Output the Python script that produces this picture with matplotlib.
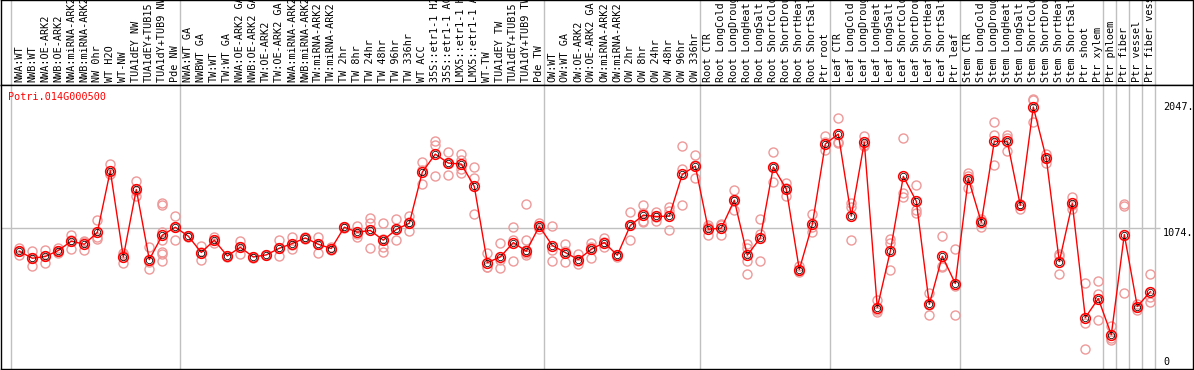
# expression profile chart for Potri.014G000500
# top strip = sample names (rotated), bottom = the values
# pink circles are the single replicates, red/black circles the means

import matplotlib
matplotlib.use("Agg")
import matplotlib.pyplot as plt

gene_name = "Potri.014G000500"

sample_labels = [
    "NWA:WT", "NWB:WT", "NWA:OE-ARK2", "NWB:OE-ARK2", "NWA:miRNA-ARK2", "NWB:miRNA-ARK2",
    "NW 0hr", "WT H2O", "WT-NW", "TUA1dEY NW", "TUA1dEY+TUB15", "TUA1dY+TUB9 NW", "Pde NW",
    "NWA:WT GA", "NWBWT GA", "TW:WT", "TW:WT GA", "NWA:OE-ARK2 GA", "NWB:OE-ARK2 GA",
    "TW:OE-ARK2", "TW:OE-ARK2 GA", "NWA:miRNA-ARK2", "NWB:miRNA-ARK2", "TW:miRNA-ARK2",
    "TW:miRNA-ARK2", "TW 2hr", "TW 8hr", "TW 24hr", "TW 48hr", "TW 96hr", "TW 336hr",
    "WT ACC", "35S::etr1-1 H2O", "35S::etr1-1 ACC", "LMX5::etr1-1 H2O", "LMX5::etr1-1 ACC",
    "WT-TW", "TUA1dEY TW", "TUA1dEY+TUB15", "TUA1dY+TUB9 TW", "Pde TW",
    "OW:WT", "OW:WT GA", "OW:OE-ARK2", "OW:OE-ARK2 GA", "OW:miRNA-ARK2", "OW:miRNA-ARK2",
    "OW 2hr", "OW 8hr", "OW 24hr", "OW 48hr", "OW 96hr", "OW 336hr",
    "Root CTR", "Root LongCold", "Root LongDrought", "Root LongHeat", "Root LongSalt",
    "Root ShortCold", "Root ShortDrought", "Root ShortHeat", "Root ShortSalt", "Ptr root",
    "Leaf CTR", "Leaf LongCold", "Leaf LongDrought", "Leaf LongHeat", "Leaf LongSalt",
    "Leaf ShortCold", "Leaf ShortDrought", "Leaf ShortHeat", "Leaf ShortSalt", "Ptr leaf",
    "Stem CTR", "Stem LongCold", "Stem LongDrought", "Stem LongHeat", "Stem LongSalt",
    "Stem ShortCold", "Stem ShortDrought", "Stem ShortHeat", "Stem ShortSalt", "Ptr shoot",
    "Ptr xylem", "Ptr phloem", "Ptr fiber", "Ptr vessel", "Ptr fiber vessel",
]

# index of the first sample of every block (a grey line goes before each one)
group_starts = [0, 13, 41, 53, 63, 73, 84, 85, 86, 87, 88]

mean_values = [
    889, 833, 847, 895, 970, 945, 1040, 1535, 843, 1385, 822, 1018, 1082,
    1010, 879, 978, 851, 921, 843, 860, 913, 951, 996, 945, 911, 1082, 1042, 1056, 978,
    1064, 1114, 1524, 1669, 1597, 1589, 1409, 798, 843, 959, 889, 1090,
    935, 879, 822, 905, 959, 857, 1096, 1179, 1168, 1171, 1506, 1573,
    1066, 1074, 1299, 857, 996, 1565, 1388, 742, 1104, 1750,
    1830, 1171, 1763, 437, 889, 1490, 1291, 463, 849, 630,
    1473, 1122, 1771, 1771, 1257, 2047, 1635, 806, 1273, 356,
    509, 219, 1023, 445, 565,
]

replicate_values = [
    [916, 855, 889], [889, 774, 833], [900, 795, 847], [913, 876, 895], [1023, 905, 980],
    [972, 900, 960], [1138, 1004, 985], [1589, 1508, 1510], [876, 795, 860], [1452, 1331, 1370],
    [921, 747, 800], [1273, 1257, 1040, 978, 884, 865, 808], [1176, 983, 1085],
    [1010, 1005], [932, 822, 883], [1004, 978, 955], [851, 845], [972, 865, 925], [843, 838],
    [860, 856], [978, 849, 913], [1004, 911, 940], [1007, 985], [1007, 879, 950], [925, 900],
    [1082, 1075], [1090, 1004, 1030], [1157, 1117, 913], [1112, 924, 884, 990], [1146, 983, 1064],
    [1171, 1050, 1120], [1605, 1428, 1540], [1776, 1744, 1492], [1685, 1498, 1600],
    [1669, 1546, 1519, 1620], [1562, 1476, 1187], [873, 766, 760], [954, 758, 815],
    [1082, 814, 980], [1267, 983, 871, 900, 860], [1117, 1090, 1065],
    [1090, 814, 900], [945, 803, 890], [865, 790, 810], [959, 835, 920], [999, 921, 960],
    [857, 840], [1208, 978, 1100], [1259, 1133, 1120, 1200], [1208, 1133, 1165],
    [1241, 1215, 1056], [1733, 1546, 1257], [1659, 1474, 1585],
    [1098, 1018, 1080], [1106, 1018, 1098], [1380, 1221, 1295], [951, 913, 809, 704],
    [1146, 1031, 809], [1685, 1444, 1565], [1434, 1331, 1400], [769, 720, 740],
    [1187, 1040, 1085], [1814, 1768, 1701],
    [1961, 1768, 1760], [1273, 1245, 983], [1814, 1733, 1745], [495, 399, 420],
    [986, 956, 742], [1800, 1353, 1321], [1420, 1219, 1200], [554, 375, 460],
    [1010, 774, 760], [905, 608, 375],
    [1519, 1393, 1490], [1135, 1085, 1145], [1924, 1822, 1578], [1822, 1800, 1696],
    [1265, 1232, 1270], [2103, 1924, 2110], [1667, 1599, 1640], [865, 704, 850],
    [1326, 1232, 1260], [638, 313, 107],
    [654, 544, 334], [286, 179, 195], [1267, 1251, 557], [469, 420, 445], [704, 522, 482],
]

ytick_values = [0, 1074, 2047]
ytick_labels = ["0", "1074.", "2047."]

mono = "DejaVu Sans Mono"
grey = "#c0c0c0"
pink = "#ee9999"

W, H = 1194, 370
fig = plt.figure(figsize=(W / 100, H / 100), dpi=100)

# pixel layout: label strip 0..85, plot 85..369, columns 1..1193
left = 1 / W
width = 1192 / W
ax_lab = fig.add_axes([left, (H - 85) / H, width, 85 / H])
ax = fig.add_axes([left, (H - 369) / H, width, 284 / H], sharex=ax_lab)

# 13 px per sample, first sample at x=19.3 px
x_left = (1 - 19.3) / 13
x_right = (1193 - 19.3) / 13
ax.set_xlim(x_left, x_right)

# 0 sits at pixel 362, 2047 at pixel 107
px_per_unit = (362 - 107) / 2047
ax.set_ylim(-(369 - 362) / px_per_unit, 2047 + (107 - 85) / px_per_unit)
ax_lab.set_ylim(0, 1)

for a in [ax, ax_lab]:
    a.set_xticks([])
    a.set_yticks([])
    for s in a.spines.values():
        s.set_linewidth(1.0)
        s.set_color("black")

# grey separators between the sample blocks
for g in group_starts:
    ax.axvline(g - 0.615, color=grey, lw=1, zorder=0)
    ax_lab.axvline(g - 0.615, color=grey, lw=1, zorder=0)

ax.hlines(1074, x_left, x_left + (1160 - 1) / 13, color=grey, lw=1, zorder=0)

# replicates
for i in range(len(replicate_values)):
    reps = replicate_values[i]
    ax.plot([i] * len(reps), reps, linestyle="none", marker="o", ms=6.5,
            mfc="none", mec=pink, mew=1.0, zorder=2)

# the mean line + mean markers
xs = list(range(len(mean_values)))
ax.plot(xs, mean_values, color="red", lw=1.0, zorder=3)
ax.plot(xs, mean_values, linestyle="none", marker="o", ms=7.0,
        mfc="none", mec="red", mew=1.1, zorder=4)
ax.plot(xs, mean_values, linestyle="none", marker="o", ms=4.6,
        mfc="none", mec="black", mew=0.55, zorder=5)

# sample names standing up in the top strip (long ones run off the top, like the original)
for i in range(len(sample_labels)):
    ax_lab.text(i, 3 / 85, sample_labels[i], rotation=90, ha="center", va="bottom",
                fontsize=7.3, family=mono, color="black")

# value labels on the right, inside the frame
for v, t in zip(ytick_values, ytick_labels):
    va = "top" if t == "1074." else "center"
    ax.text((1163 - 1) / 1192, v, t, transform=ax.get_yaxis_transform(),
            ha="left", va=va, fontsize=7.3, family=mono, color="black")

fig.text(8 / W, (H - 97) / H, gene_name, color="red", fontsize=7.3, family=mono,
         ha="left", va="center")

fig.savefig("out.png", dpi=100)
